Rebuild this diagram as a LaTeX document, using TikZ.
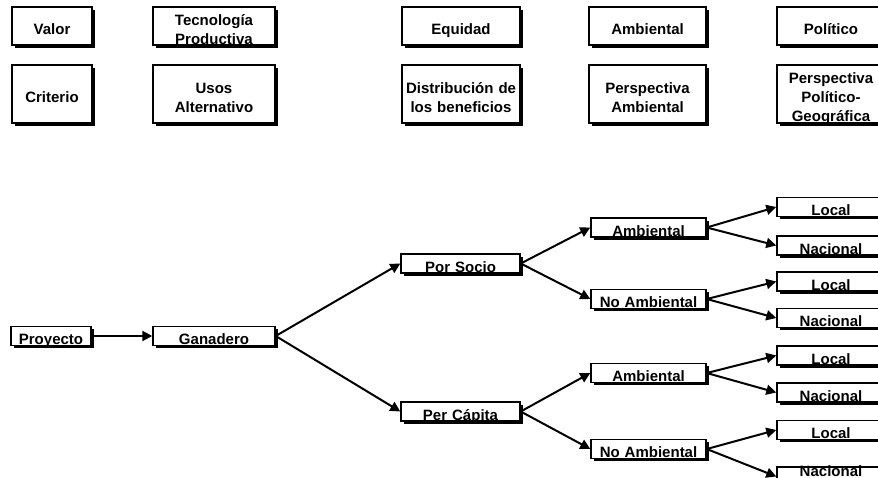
\documentclass[tikz,border=0pt]{standalone}
\usepackage{fontspec}
\setmainfont{Liberation Sans}
\usetikzlibrary{shadows,arrows.meta}

\tikzset{
caja/.style={rectangle,draw,fill=white,line width=1.4pt,inner sep=0pt,align=center,
  text height=17pt,text depth=0pt,font=\fontsize{15}{19}\selectfont\bfseries,
  drop shadow={opacity=1,fill=black,shadow xshift=2.5pt,shadow yshift=-2.5pt}},
dos/.style={text depth=19pt},
tres/.style={text depth=38pt},
rama/.style={caja,minimum height=19pt},
flecha/.style={line width=2pt,-{Triangle[length=10pt,width=10pt]}}
}

\begin{document}
\begin{tikzpicture}[x=1pt,y=-1pt]
\useasboundingbox (0,0) rectangle (878,477);
\clip (0,0) rectangle (878,477);
%cuadro de valores y criterios
\path (52,26) node(valor)[caja,text width=80pt,minimum height=38pt]{Valor}
(214,26) node(tecno)[caja,dos,text width=122pt,minimum height=38pt]{Tecnología\\Productiva}
(461,26) node(equidad)[caja,text width=118pt,minimum height=38pt]{Equidad}
(647.5,26) node(ambiental)[caja,text width=117pt,minimum height=38pt]{Ambiental}
(831,26) node(politico)[caja,text width=108pt,minimum height=38pt]{Político}
(52,94) node(criterio)[caja,text width=80pt,minimum height=58pt]{Criterio}
(214,94) node(usos)[caja,dos,text width=122pt,minimum height=58pt]{Usos\\Alternativo}
(461,94) node(distrib)[caja,dos,text width=118pt,minimum height=58pt]{Distribución de\\los beneficios}
(647.5,94) node(persamb)[caja,dos,text width=117pt,minimum height=58pt]{Perspectiva\\Ambiental}
(831,94) node(perspol)[caja,tres,text width=108pt,minimum height=58pt]{Perspectiva\\Político-\\Geográfica};
%arbol
\path (51,336) node(proyecto)[rama,text width=80pt]{Proyecto}
(214,336) node(ganadero)[rama,text width=122pt]{Ganadero}
(460.5,263.5) node(socio)[rama,text width=119pt]{Por Socio}
(460.5,411.5) node(capita)[rama,text width=119pt]{Per Cápita}
(648.5,227.5) node(sambi)[rama,text width=115pt]{Ambiental}
(648.5,299) node(snoambi)[rama,text width=115pt]{No Ambiental}
(648.5,373) node(cambi)[rama,text width=115pt]{Ambiental}
(648.5,449) node(cnoambi)[rama,text width=115pt]{No Ambiental}
(831,207) node(slocal1)[rama,text width=108pt]{Local}
(831,245.5) node(snac1)[rama,text width=108pt]{Nacional}
(831,281.5) node(slocal2)[rama,text width=108pt]{Local}
(831,318) node(snac2)[rama,text width=108pt]{Nacional}
(831,355.5) node(clocal1)[rama,text width=108pt]{Local}
(831,392.5) node(cnac1)[rama,text width=108pt]{Nacional}
(831,430) node(clocal2)[rama,text width=108pt]{Local}
(831,476.5) node(cnac2)[rama,text width=108pt,text height=0pt,text depth=1pt]{Nacional};
\draw[flecha](proyecto.east)--(ganadero.west);
\draw[flecha](ganadero.east)--(socio.west);
\draw[flecha](ganadero.east)--(capita.west);
\draw[flecha](socio.east)--(sambi.west);
\draw[flecha](socio.east)--(snoambi.west);
\draw[flecha](capita.east)--(cambi.west);
\draw[flecha](capita.east)--(cnoambi.west);
\draw[flecha](sambi.east)--(slocal1.west);
\draw[flecha](sambi.east)--(snac1.west);
\draw[flecha](snoambi.east)--(slocal2.west);
\draw[flecha](snoambi.east)--(snac2.west);
\draw[flecha](cambi.east)--(clocal1.west);
\draw[flecha](cambi.east)--(cnac1.west);
\draw[flecha](cnoambi.east)--(clocal2.west);
\draw[flecha](cnoambi.east)--(cnac2.west);
\end{tikzpicture}
\end{document}
